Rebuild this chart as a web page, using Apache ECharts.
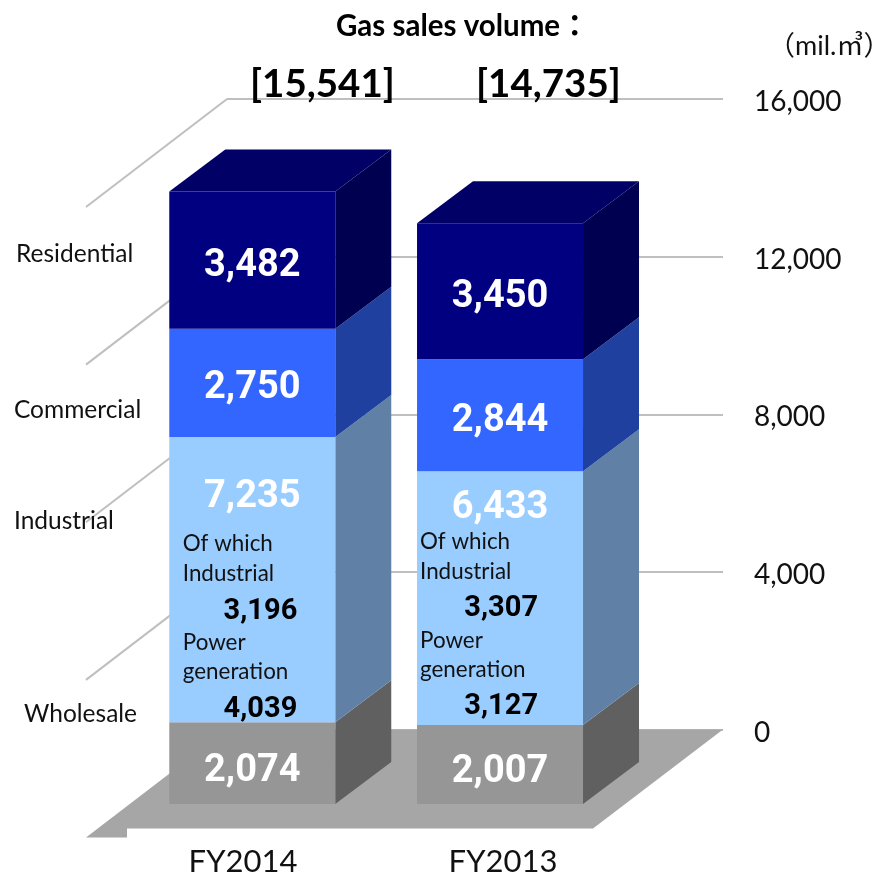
<!DOCTYPE html>
<html>
<head>
<meta charset="utf-8">
<style>html,body{margin:0;padding:0;background:#fff}#c{width:878px;height:876px}</style>
<script src="https://cdn.jsdelivr.net/npm/echarts@6/dist/echarts.min.js"></script>
</head>
<body>
<div id="c"></div>
<script>
const fiscalYears = ['FY2014', 'FY2013'];
const wholesale = [2074, 2007];
const industrial = [7235, 6433];
const commercial = [2750, 2844];
const residential = [3482, 3450];
const ofWhichIndustrial = [3196, 3307];
const ofWhichPower = [4039, 3127];
const totals = ['[15,541]', '[14,735]'];
const axisTicks = [0, 4000, 8000, 12000, 16000];
const segmentNames = ['Wholesale', 'Industrial', 'Commercial', 'Residential'];
const chartTitle = 'Gas sales volume：';
const unitLabel = '（mil.㎥）';

// ---- styling / layout (pixels) ----
const DEPTH_X = 56, DEPTH_Y = 42;
const WALL_X = 141, WALL_Y = 108;
const TEXT_FONT = 'Lato, "Noto Sans CJK JP", sans-serif';
const NUM_FONT = 'Roboto, sans-serif';
const palette = [
  { front: '#969696', side: '#606060' },
  { front: '#99CCFF', side: '#6080A6' },
  { front: '#3366FF', side: '#2040A0' },
  { front: '#000080', side: '#000050', top: '#000066' }
];
const values = [wholesale, industrial, commercial, residential];
const fmt = v => v.toLocaleString('en-US');
const subLeft = [13.5, 3];
const subRight = [128, 121];
const subTop = [-178, -183];

function bases(seg, i) {
  let b = 0;
  for (let s = 0; s < seg; s++) b += values[s][i];
  return b;
}

function barRender(seg) {
  return function (params, api) {
    const i = api.value(0);
    const lo = api.coord([i, api.value(1)]);
    const hi = api.coord([i, api.value(2)]);
    const hw = api.size([1, 0])[0] * 0.335;
    const xl = lo[0] - hw, xr = lo[0] + hw;
    const c = palette[seg];
    const children = [
      { type: 'polygon', shape: { points: [[xr, lo[1]], [xr + DEPTH_X, lo[1] - DEPTH_Y], [xr + DEPTH_X, hi[1] - DEPTH_Y], [xr, hi[1]]] }, style: { fill: c.side } },
      { type: 'rect', shape: { x: xl, y: hi[1], width: xr - xl, height: lo[1] - hi[1] }, style: { fill: c.front } }
    ];
    if (c.top) {
      children.push({ type: 'polygon', shape: { points: [[xl, hi[1]], [xl + DEPTH_X, hi[1] - DEPTH_Y], [xr + DEPTH_X, hi[1] - DEPTH_Y], [xr, hi[1]]] }, style: { fill: c.top } });
    }
    let labelY = (lo[1] + hi[1]) / 2 + 6;
    if (seg === 1) labelY = hi[1] + (i === 0 ? 60 : 37);
    if (seg === 0) labelY = (lo[1] + hi[1]) / 2 + 8;
    children.push({ type: 'text', style: { text: fmt(values[seg][i]), x: lo[0], y: labelY, fill: '#fff', font: 'bold 38px ' + NUM_FONT, align: 'center', verticalAlign: 'middle' } });
    if (seg === 1) {
      const x = xl + subLeft[i], x2 = xl + subRight[i], y0 = lo[1] + subTop[i];
      const txt = (t, dy) => ({ type: 'text', style: { text: t, x: x, y: y0 + dy, fill: '#111', font: '22.4px ' + TEXT_FONT, align: 'left', verticalAlign: 'middle' } });
      const num = (v, dy) => ({ type: 'text', style: { text: fmt(v), x: x2, y: y0 + dy, fill: '#000', font: 'bold 29px ' + NUM_FONT, align: 'right', verticalAlign: 'middle' } });
      children.push(txt('Of which', 0), txt('Industrial', 30), num(ofWhichIndustrial[i], 67),
        txt('Power', 99), txt('generation', 128), num(ofWhichPower[i], 165));
    }
    return { type: 'group', children };
  };
}

const barSeries = segmentNames.map((name, seg) => ({
  name, type: 'custom', xAxisIndex: 1, yAxisIndex: 1, z: 5 + seg,
  renderItem: barRender(seg), clip: false,
  encode: { x: 0, y: [1, 2] },
  data: fiscalYears.map((_, i) => [i, bases(seg, i), bases(seg, i) + values[seg][i]])
}));

const floorSeries = {
  type: 'custom', xAxisIndex: 0, yAxisIndex: 0, z: 1, clip: false, silent: true,
  encode: { y: 0 },
  data: [[0]],
  renderItem: function (params, api) {
    const cs = params.coordSys;
    const y = api.coord([0, 0])[1];
    const L = cs.x, R = cs.x + cs.width;
    return { type: 'polygon', shape: { points: [
      [L, y], [R, y], [R - 130, y + 99], [L - 100, y + 99], [L - 100, y + WALL_Y], [L - WALL_X, y + WALL_Y]
    ] }, style: { fill: '#A6A6A6' } };
  }
};

const diagonalSeries = {
  type: 'custom', xAxisIndex: 0, yAxisIndex: 0, z: 2, clip: false, silent: true,
  encode: { y: 1 },
  data: axisTicks.filter(v => v > 0).map(v => [0, v]),
  renderItem: function (params, api) {
    const cs = params.coordSys;
    const y = api.coord([0, api.value(1)])[1];
    return { type: 'line', shape: { x1: cs.x, y1: y, x2: cs.x - WALL_X, y2: y + WALL_Y }, style: { stroke: '#BFBFBF', lineWidth: 2 } };
  }
};

const chart = echarts.init(document.getElementById('c'), null, { renderer: 'canvas' });
chart.setOption({
  animation: false,
  backgroundColor: '#fff',
  title: {
    text: chartTitle, left: 331, top: 7,
    textStyle: { fontFamily: TEXT_FONT, fontWeight: 'bold', fontSize: 29.5, color: '#000' }
  },
  grid: [
    { left: 227, width: 496, top: 99, height: 630.5 },      // back wall
    { left: 128.4, width: 495.5, top: 173.4, height: 630.6 }, // front plane of the bars
    { left: 113, width: 520, top: 803, height: 1 }           // category captions
  ],
  xAxis: [
    { gridIndex: 0, type: 'category', data: fiscalYears, show: false },
    { gridIndex: 1, type: 'category', data: fiscalYears, show: false },
    { gridIndex: 2, type: 'category', data: fiscalYears,
      axisLine: { show: false }, axisTick: { show: false },
      axisLabel: { margin: 43, fontFamily: TEXT_FONT, fontSize: 31, color: '#111' } }
  ],
  yAxis: [
    { gridIndex: 0, type: 'value', min: 0, max: 16000, interval: 4000, position: 'right',
      axisLine: { show: false }, axisTick: { show: false },
      splitLine: { show: true, lineStyle: { color: '#BFBFBF', width: 2 } },
      axisLabel: { margin: 31, fontFamily: TEXT_FONT, fontSize: 28, color: '#111', lineHeight: 6, verticalAlign: 'top',
        formatter: v => fmt(v) } },
    { gridIndex: 1, type: 'value', min: 0, max: 16000, interval: 4000, show: false },
    { gridIndex: 2, type: 'value', show: false }
  ],
  graphic: [
    { type: 'text', left: 768, top: 33, z: 20, style: { text: unitLabel, font: '27px ' + TEXT_FONT, fill: '#111' } },
    { type: 'text', left: 250, top: 65, z: 20, style: { text: totals[0], font: 'bold 38.5px ' + TEXT_FONT, fill: '#000' } },
    { type: 'text', left: 476, top: 65, z: 20, style: { text: totals[1], font: 'bold 38.5px ' + TEXT_FONT, fill: '#000' } },
    { type: 'text', left: 16, top: 242, z: 20, style: { text: segmentNames[3], font: '24.5px ' + TEXT_FONT, fill: '#111' } },
    { type: 'text', left: 14, top: 398, z: 20, style: { text: segmentNames[2], font: '24.5px ' + TEXT_FONT, fill: '#111' } },
    { type: 'text', left: 14, top: 509, z: 20, style: { text: segmentNames[1], font: '24.5px ' + TEXT_FONT, fill: '#111' } },
    { type: 'text', left: 24, top: 702, z: 20, style: { text: segmentNames[0], font: '24.5px ' + TEXT_FONT, fill: '#111' } }
  ],
  series: [floorSeries, diagonalSeries].concat(barSeries)
});
</script>
</body>
</html>
